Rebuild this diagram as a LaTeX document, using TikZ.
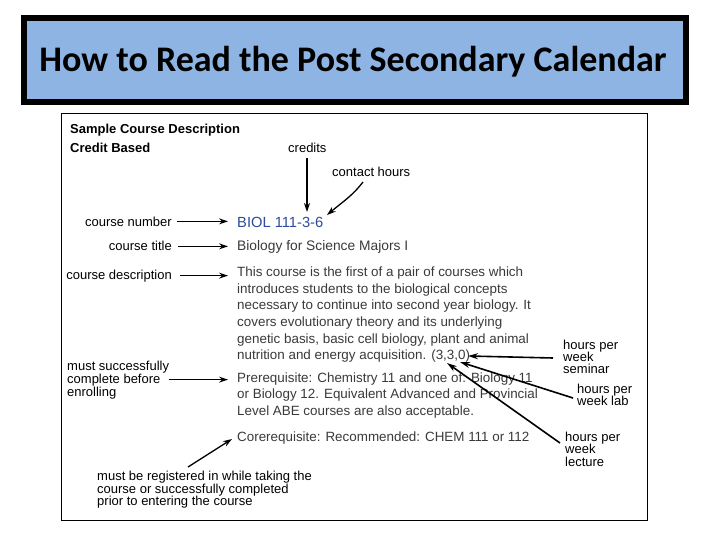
\documentclass[tikz,border=0pt]{standalone}
\usepackage{fontspec}
\setmainfont{Liberation Sans}
\newfontfamily\titlefont{Carlito}
\usetikzlibrary{arrows.meta}
\definecolor{titleblue}{HTML}{8DB4E2}
\definecolor{biolblue}{HTML}{2B4C9B}
\definecolor{bodygray}{HTML}{3A3A3A}
\begin{document}
\begin{tikzpicture}[x=1pt,y=-1pt,
  lbl/.style={font=\fontsize{13}{13}\selectfont, inner sep=0pt, anchor=base west},
  body/.style={font=\fontsize{13.4}{16}\selectfont, text=bodygray, inner sep=0pt, anchor=base west},
  hd/.style={font=\bfseries\fontsize{13}{13}\selectfont, inner sep=0pt, anchor=base west},
  arr/.style={-{Stealth[length=9pt,width=6pt]}, line width=1.3pt},
  longarr/.style={-{Stealth[length=10pt,width=6pt]}, line width=1.6pt}]
\useasboundingbox (0,0) rectangle (720,540);
\fill[white] (0,0) rectangle (720,540);
% title
\node[draw=black, line width=6pt, fill=titleblue, minimum width=662pt, minimum height=84pt, inner sep=0pt] (titlebox) at (355,60) {};
\node[font=\titlefont\bfseries\fontsize{36}{38}\selectfont, inner sep=0pt] (title) at (353,62) {How to Read the Post Secondary Calendar};
% image frame
\draw[line width=1pt] (61,114) rectangle (647,520);
\node[hd] (sample) at (70,134) {Sample Course Description};
\node[hd] (credit) at (70,153) {Credit Based};
% top labels
\node[lbl] (credits) at (288,153) {credits};
\node[lbl] (contact) at (332,177) {contact hours};
% course header
\node[font=\fontsize{14.7}{16}\selectfont, text=biolblue, inner sep=0pt, anchor=base west] (biol) at (237,228) {BIOL 111-3-6};
\node[font=\fontsize{13.8}{14}\selectfont, text=bodygray, inner sep=0pt, anchor=base west] (btitle) at (237,250) {Biology for Science Majors I};
% left labels
\node[lbl, anchor=base east] (cnum) at (172,226) {course number};
\node[lbl, anchor=base east] (ctitle) at (172,251) {course title};
\node[lbl, anchor=base east] (cdesc) at (172,279) {course description};
\node[lbl] (must1) at (67,370) {must successfully};
\node[lbl] (must2) at (67,383) {complete before};
\node[lbl] (must3) at (67,396) {enrolling};
% paragraph
\node[body] (p1) at (237,276) {This course is the first of a pair of courses which};
\node[body] (p2) at (237,293) {introduces students to the biological concepts};
\node[body] (p3) at (237,309) {necessary to continue into second year biology. It};
\node[body] (p4) at (237,326) {covers evolutionary theory and its underlying};
\node[body] (p5) at (237,343) {genetic basis, basic cell biology, plant and animal};
\node[body] (p6) at (237,359) {nutrition and energy acquisition. (3,3,0)};
\node[body] (q1) at (237,382) {Prerequisite: Chemistry 11 and one of: Biology 11};
\node[body] (q2) at (237,398) {or Biology 12. Equivalent Advanced and Provincial};
\node[body] (q3) at (237,415) {Level ABE courses are also acceptable.};
\node[body] (co) at (237,441) {Corerequisite: Recommended: CHEM 111 or 112};
% right labels
\node[lbl] (sem1) at (563,349) {hours per};
\node[lbl] (sem2) at (563,361) {week};
\node[lbl] (sem3) at (563,373) {seminar};
\node[lbl] (lab1) at (577,393) {hours per};
\node[lbl] (lab2) at (577,405) {week lab};
\node[lbl] (lec1) at (565,441) {hours per};
\node[lbl] (lec2) at (565,453) {week};
\node[lbl] (lec3) at (565,466) {lecture};
% bottom label
\node[lbl] (reg1) at (97,480) {must be registered in while taking the};
\node[lbl] (reg2) at (97,493) {course or successfully completed};
\node[lbl] (reg3) at (97,505) {prior to entering the course};
% coordinates
\coordinate (crS) at (307,158);
\coordinate (crT) at (307,212);
\coordinate (chS) at (363,182);
\coordinate (chT) at (327,215);
\coordinate (semS) at (553,358);
\coordinate (semT) at (468,356);
\coordinate (labS) at (573,398);
\coordinate (labT) at (460,362);
\coordinate (lecS) at (560,443);
\coordinate (lecT) at (447,363);
\coordinate (regS) at (188,467);
\coordinate (regT) at (232,439);
% arrows
\draw[arr] (crS) -- (crT);
\draw[arr] (chS) .. controls (352,196) and (345,200) .. (chT);
\draw[arr] ([xshift=5pt]cnum.east) -- ([xshift=-9pt]biol.west |- cnum.east);
\draw[arr] ([xshift=6pt]ctitle.east) -- ([xshift=-9pt]btitle.west |- ctitle.east);
\draw[arr] ([xshift=8pt]cdesc.east) -- ([xshift=-9pt]p1.west |- cdesc.east);
\draw[arr] ([xshift=8pt]must2.east) -- ([xshift=-9pt]q1.west |- must2.east);
\draw[longarr] (semS) -- (semT);
\draw[longarr] (labS) -- (labT);
\draw[longarr] (lecS) -- (lecT);
\draw[arr] (regS) -- (regT);
\end{tikzpicture}
\end{document}
